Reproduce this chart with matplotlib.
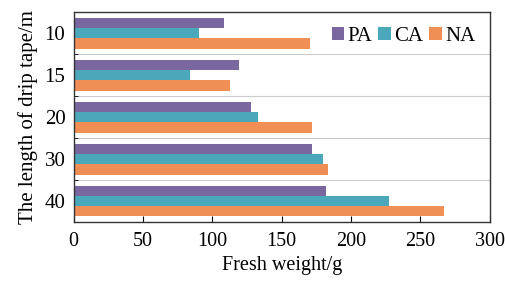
import matplotlib.pyplot as plt
import numpy as np

# -------------- Data --------------
lengths = ['10', '15', '20', '30', '40']
pa = [108, 119, 128, 172, 182]
ca = [90, 84, 133, 180, 227]
na = [170, 113, 172, 183, 267]
# ----------------------------------

plt.rcParams['font.family'] = ['Liberation Serif', 'DejaVu Serif']

fig = plt.figure(figsize=(5.06, 2.84), dpi=100)
ax = fig.add_axes([0.1457, 0.2183, 0.8223, 0.7384])

y = np.arange(len(lengths))
h = 0.245
ax.barh(y - h, pa, height=h, color='#7B679F', label='PA')
ax.barh(y, ca, height=h, color='#4BA7BA', label='CA')
ax.barh(y + h, na, height=h, color='#F08F55', label='NA')

# separators between groups
for b in y[:-1] + 0.5:
    ax.axhline(b, color='#cccccc', lw=0.8, zorder=0)

ax.set_xlim(0, 300)
ax.set_ylim(len(lengths) - 0.5, -0.5)
ax.set_xticks(np.arange(0, 301, 50))
ax.set_yticks(y)
ax.set_yticklabels(lengths)
ax.set_yticks(y[:-1] + 0.5, minor=True)
ax.tick_params(axis='y', which='major', length=0, labelsize=15, pad=6)
ax.tick_params(axis='y', which='minor', direction='in', length=3)
ax.tick_params(axis='x', direction='in', length=4, labelsize=14.5, pad=7)

for s in ax.spines.values():
    s.set_color('#333333')
    s.set_linewidth(1.0)

ax.set_xlabel('Fresh weight/g', fontsize=14.5, labelpad=4)
ax.set_ylabel('The length of drip tape/m', fontsize=15, labelpad=5)

ax.legend(loc='upper right', frameon=False, fontsize=15, ncol=3,
          handlelength=0.6, handleheight=0.6, handletextpad=0.15,
          columnspacing=0.3, borderaxespad=0.3)

fig.savefig('out.png', dpi=100)
